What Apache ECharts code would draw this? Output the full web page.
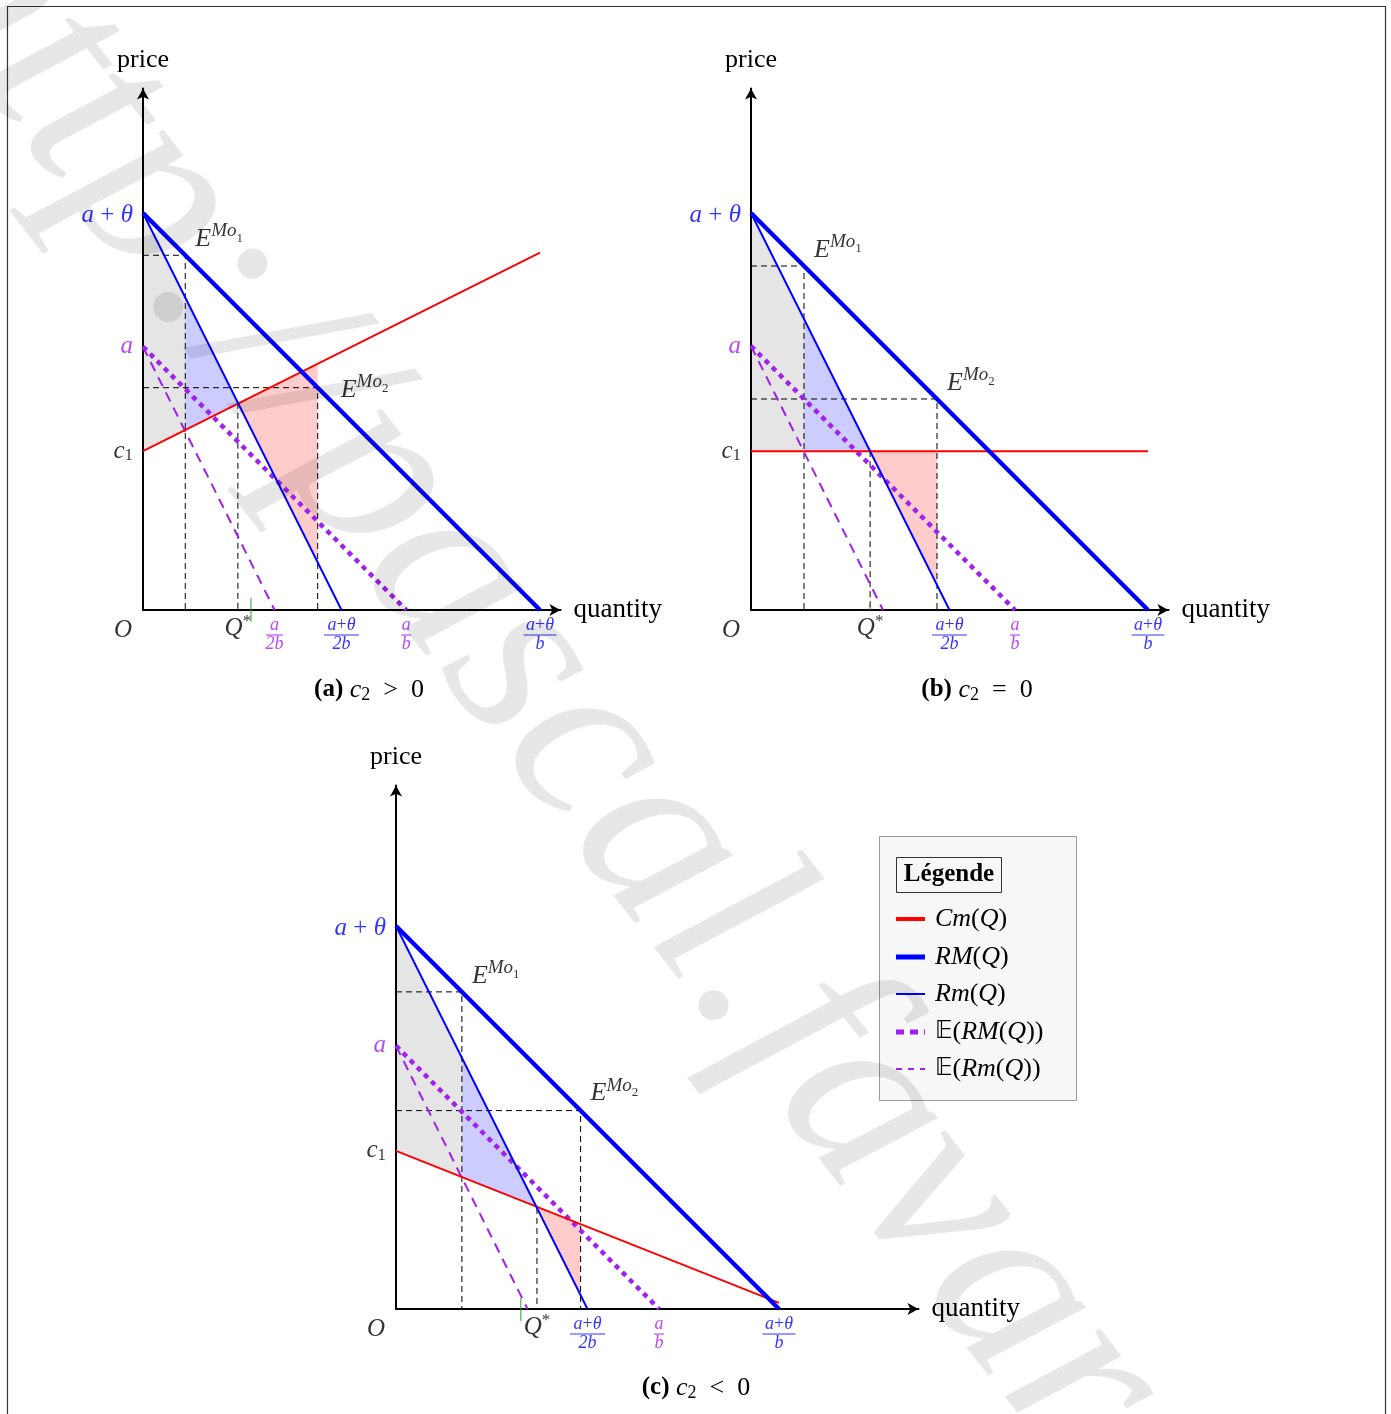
<!DOCTYPE html>
<html>
<head>
<meta charset="utf-8">
<script src="https://cdn.jsdelivr.net/npm/echarts@6/dist/echarts.min.js"></script>
<style>
html, body { margin: 0; padding: 0; background: #fff; }
#chart { width: 1391px; height: 1414px; }
</style>
</head>
<body>
<div id="chart"></div>
<script>
// values, in units where a+theta = 10 and b = 1
var panelIds = ['a', 'b', 'c'];
var aThetaVals = [10, 10, 10];          // a+θ : intercept of RM and Rm
var aVals = [6.63, 6.65, 6.87];         // a : intercept of E(RM) and E(Rm)
var c1Vals = [4.0, 4.0, 4.13];          // Cm at Q = 0
var cmEndVals = [9.0, 4.0, 0.16];       // Cm at Q = (a+θ)/b
var q1Vals = [1.065, 1.335, 1.72];      // quantity of E^Mo1
var qStarVals = [2.39, 3.0, 3.68];      // Q*
var q2Vals = [4.40, 4.685, 4.82];       // quantity of E^Mo2
var greenVals = [2.72, 3.0, 3.26];      // small green mark near Q*
var greenTopVals = [0.3, 0.15, 0.29];
var greenBottomVals = [-0.3, 0, -0.31];
var captionSigns = ['>', '=', '<'];

// layout of the three panels (pixels)
var originX = [143, 751, 396];
var originY = [610, 610, 1309];
var pxPerUnit = [39.7, 39.7, 38.3];
var tipX = [566, 1174, 924];
var tipY = [83, 83, 780];
var eLabelOffsets = [[[10, -16], [23, 2]], [[10, -16], [10, -16]], [[10, -16], [10, -17]]];
var captionPos = [[369, 690], [977, 690], [696, 1388]];

var FONT = '"Liberation Serif", "DejaVu Serif", serif';
var BLUE = '#0000ff', RED = '#ff0000', PURPLE = '#a020f0', GREEN = '#2ca02c';

function sty(size, color, italic, pad, lh, weight) {
  var o = { fontFamily: FONT, fontSize: size, color: color, fontStyle: italic ? 'italic' : 'normal', lineHeight: lh || 28 };
  if (pad) o.padding = pad;
  if (weight) o.fontWeight = weight;
  return o;
}
function bar(w, color) {
  return { width: w, height: 1.2, lineHeight: 4, backgroundColor: color, fontSize: 4 };
}

var RICH = {
  i: sty(25, '#000', true), ib: sty(25, BLUE, true), ip: sty(25, PURPLE, true),
  r: sty(25, '#000', false), rb: sty(25, BLUE, false),
  sub: sty(17, '#000', false, [9, 0, 0, 0]),
  sup: sty(17, '#000', false, [0, 0, 12, 0]),
  E: sty(26, '#000', true, null, 32),
  Mo: sty(19, '#000', true, [0, 0, 16, 0], 32),
  mo: sty(13, '#000', false, [0, 0, 2, 0], 32),
  nb: sty(18, BLUE, true, null, 15), nbr: sty(18, BLUE, false, null, 15),
  np: sty(18, PURPLE, true, null, 15),
  b35: bar(35, BLUE), b33: bar(33, BLUE), p17: bar(17, PURPLE), p10: bar(10, PURPLE)
};

function lineAt(p0, p1, x) { return p0[1] + (p1[1] - p0[1]) * (x - p0[0]) / (p1[0] - p0[0]); }

function lineSeries(i, name, pts, color, width, dash, z, noClip) {
  return {
    type: 'line', name: name, xAxisIndex: i, yAxisIndex: i, data: pts, symbol: 'none',
    silent: true, z: z || 3, clip: !noClip,
    lineStyle: { color: color, width: width, type: dash || 'solid', cap: 'butt' }
  };
}
function polySeries(i, name, pts, color) {
  return {
    type: 'custom', name: name, xAxisIndex: i, yAxisIndex: i, silent: true, z: 1,
    data: [[0, 0]],
    renderItem: function (params, api) {
      return {
        type: 'polygon',
        shape: { points: pts.map(function (p) { return api.coord(p); }) },
        style: { fill: color }
      };
    }
  };
}
function labelSeries(i, items) {
  return {
    type: 'scatter', xAxisIndex: i, yAxisIndex: i, symbolSize: 0, silent: true, z: 10, clip: false,
    data: items.map(function (it) {
      var lb = { show: true, rich: RICH, formatter: it.text };
      for (var k in it.label) lb[k] = it.label[k];
      return { value: it.at, label: lb };
    })
  };
}

var grids = [], xAxes = [], yAxes = [], series = [], graphics = [];

panelIds.forEach(function (id, i) {
  var s = pxPerUnit[i];
  var w = tipX[i] - 5.5 - originX[i];
  var h = originY[i] - (tipY[i] + 5.5);
  grids.push({ left: originX[i], top: tipY[i] + 5.5, width: w, height: h, containLabel: false, outerBoundsMode: 'none' });
  var axisCommon = {
    type: 'value', gridIndex: i, min: 0,
    axisLine: { show: true, onZero: false, lineStyle: { color: '#000', width: 2 }, symbol: ['none', 'arrow'], symbolSize: [9, 11] },
    axisTick: { show: false }, axisLabel: { show: false }, splitLine: { show: false }
  };
  xAxes.push(Object.assign({}, axisCommon, {
    max: w / s, name: 'quantity', nameLocation: 'end', nameGap: 13,
    nameTextStyle: { fontFamily: FONT, fontSize: 27, color: '#000' }
  }));
  yAxes.push(Object.assign({}, axisCommon, {
    max: h / s, name: 'price', nameLocation: 'end', nameGap: 15,
    nameTextStyle: { fontFamily: FONT, fontSize: 26, color: '#000' }
  }));

  var at = aThetaVals[i], a = aVals[i];
  var cm0 = [0, c1Vals[i]], cm1 = [at, cmEndVals[i]];
  var RM0 = [0, at], RM1 = [at, 0];
  var Rm0 = [0, at], Rm1 = [at / 2, 0];
  var q1 = q1Vals[i], qs = qStarVals[i], q2 = q2Vals[i];
  var Cm = function (x) { return lineAt(cm0, cm1, x); };
  var RM = function (x) { return lineAt(RM0, RM1, x); };
  var Rm = function (x) { return lineAt(Rm0, Rm1, x); };

  // shaded areas between Rm(Q) and Cm(Q)
  series.push(polySeries(i, 'gray', [[0, Rm(0)], [q1, Rm(q1)], [q1, Cm(q1)], [0, Cm(0)]], 'rgba(0,0,0,0.1)'));
  series.push(polySeries(i, 'blue', [[q1, Rm(q1)], [qs, Rm(qs)], [qs, Cm(qs)], [q1, Cm(q1)]], 'rgba(0,0,255,0.2)'));
  series.push(polySeries(i, 'red', [[qs, Cm(qs)], [q2, Cm(q2)], [q2, Rm(q2)], [qs, Rm(qs)]], 'rgba(255,0,0,0.2)'));

  // dashed guides
  series.push(lineSeries(i, 'g1', [[0, RM(q1)], [q1, RM(q1)], [q1, 0]], '#000', 1, [6, 4], 2));
  series.push(lineSeries(i, 'g2', [[0, RM(q2)], [q2, RM(q2)], [q2, 0]], '#000', 1, [6, 4], 2));
  series.push(lineSeries(i, 'gs', [[qs, Rm(qs)], [qs, 0]], '#000', 1, [6, 4], 2));
  series.push(lineSeries(i, 'green', [[greenVals[i], greenTopVals[i]], [greenVals[i], greenBottomVals[i]]], GREEN, 1, 'solid', 3, true));

  // curves
  series.push(lineSeries(i, 'E(Rm)', [[0, a], [a / 2, 0]], PURPLE, 2, [10, 7], 3));
  series.push(lineSeries(i, 'E(RM)', [[0, a], [a, 0]], PURPLE, 4.5, [5, 5], 3));
  series.push(lineSeries(i, 'Cm', [cm0, cm1], RED, 2, 'solid', 4, true));
  series.push(lineSeries(i, 'Rm', [Rm0, Rm1], BLUE, 2, 'solid', 4));
  series.push(lineSeries(i, 'RM', [RM0, RM1], BLUE, 4.5, 'solid', 4));

  // texts anchored to data
  var yl = { position: 'left', distance: 10, align: 'right', verticalAlign: 'middle' };
  var xl = { position: 'bottom', distance: 8, align: 'center', verticalAlign: 'top' };
  var items = [
    { at: [0, at], text: '{ib|a}{rb| + }{ib|θ}', label: { position: 'left', distance: 10, align: 'right', verticalAlign: 'middle', offset: [0, 2] } },
    { at: [0, a], text: '{ip|a}', label: yl },
    { at: [0, c1Vals[i]], text: '{i|c}{sub|1}', label: yl },
    { at: [0, 0], text: '{i|O}', label: { position: [-29, 6], align: 'left', verticalAlign: 'top' } },
    { at: [qs, 0], text: '{i|Q}{sup|*}', label: { position: 'bottom', distance: 4, align: 'center', verticalAlign: 'top' } },
    { at: [at / 2, 0], text: '{nb|a}{nbr|+}{nb|θ}\n{b35| }\n{nb|2b}', label: xl },
    { at: [a, 0], text: '{np|a}\n{p10| }\n{np|b}', label: xl },
    { at: [at, 0], text: '{nb|a}{nbr|+}{nb|θ}\n{b33| }\n{nb|b}', label: xl },
    { at: [q1, RM(q1)], text: '{E|E}{Mo|Mo}{mo|1}', label: { position: eLabelOffsets[i][0], align: 'left', verticalAlign: 'middle' } },
    { at: [q2, RM(q2)], text: '{E|E}{Mo|Mo}{mo|2}', label: { position: eLabelOffsets[i][1], align: 'left', verticalAlign: 'middle' } }
  ];
  if (i === 0) items.push({ at: [a / 2, 0], text: '{np|a}\n{p17| }\n{np|2b}', label: xl });
  series.push(labelSeries(i, items));

  graphics.push({
    type: 'text', x: captionPos[i][0], y: captionPos[i][1], silent: true, z: 20,
    style: {
      text: '{cb|(' + id + ')}{cr| }{ci|c}{cs|2}{cr|  ' + captionSigns[i] + '  0}',
      align: 'center', verticalAlign: 'middle',
      rich: {
        cb: sty(25, '#000', false, null, 30, 'bold'),
        ci: sty(26, '#000', true, null, 30),
        cs: sty(18, '#000', false, [10, 0, 0, 0], 30),
        cr: sty(26, '#000', false, null, 30)
      }
    }
  });
});

// legend box
var legendRows = [
  { text: '{i|Cm}{r|(}{i|Q}{r|)}', color: RED, width: 4, dash: null },
  { text: '{i|RM}{r|(}{i|Q}{r|)}', color: BLUE, width: 5, dash: null },
  { text: '{i|Rm}{r|(}{i|Q}{r|)}', color: BLUE, width: 2, dash: null },
  { text: '{bb|𝔼}{r|(}{i|RM}{r|(}{i|Q}{r|))}', color: PURPLE, width: 5, dash: [8, 6] },
  { text: '{bb|𝔼}{r|(}{i|Rm}{r|(}{i|Q}{r|))}', color: PURPLE, width: 2, dash: [6, 6] }
];
var legendRowY = [919, 957, 994, 1032, 1069];
graphics.push({ type: 'rect', silent: true, z: 15, shape: { x: 879.5, y: 836.5, width: 197, height: 264 }, style: { fill: '#f7f7f7', stroke: '#999', lineWidth: 1 } });
graphics.push({ type: 'rect', silent: true, z: 16, shape: { x: 896.5, y: 857.5, width: 105, height: 35 }, style: { fill: 'none', stroke: '#333', lineWidth: 1 } });
graphics.push({ type: 'text', silent: true, z: 16, x: 949, y: 875, style: { text: 'Légende', fontFamily: FONT, fontSize: 25, fontWeight: 'bold', fill: '#000', align: 'center', verticalAlign: 'middle' } });
legendRows.forEach(function (row, k) {
  graphics.push({ type: 'line', silent: true, z: 16, shape: { x1: 896, y1: legendRowY[k], x2: 925, y2: legendRowY[k] }, style: { stroke: row.color, lineWidth: row.width, lineDash: row.dash } });
  graphics.push({
    type: 'text', silent: true, z: 16, x: 935, y: legendRowY[k],
    style: { text: row.text, align: 'left', verticalAlign: 'middle', rich: { i: sty(26, '#000', true), r: sty(26, '#000', false), bb: { fontFamily: '"DejaVu Sans", sans-serif', fontSize: 24, fill: '#000', lineHeight: 28 } } }
  });
});

// frame
graphics.push({ type: 'rect', silent: true, z: 30, shape: { x: 7.5, y: 6.5, width: 1378, height: 1420 }, style: { fill: 'none', stroke: '#333', lineWidth: 1.2 } });

// watermark
graphics.push({
  type: 'text', silent: true, z: 40, x: -52, y: -65, rotation: -52 * Math.PI / 180,
  style: { text: 'http://pascal.favard', fontFamily: FONT, fontStyle: 'italic', fontSize: 255, fill: 'rgba(0,0,0,0.095)', align: 'left', verticalAlign: 'middle' }
});

var chart = echarts.init(document.getElementById('chart'));
chart.setOption({
  animation: false,
  backgroundColor: '#fff',
  grid: grids,
  xAxis: xAxes,
  yAxis: yAxes,
  series: series,
  graphic: { elements: graphics }
});
</script>
</body>
</html>
